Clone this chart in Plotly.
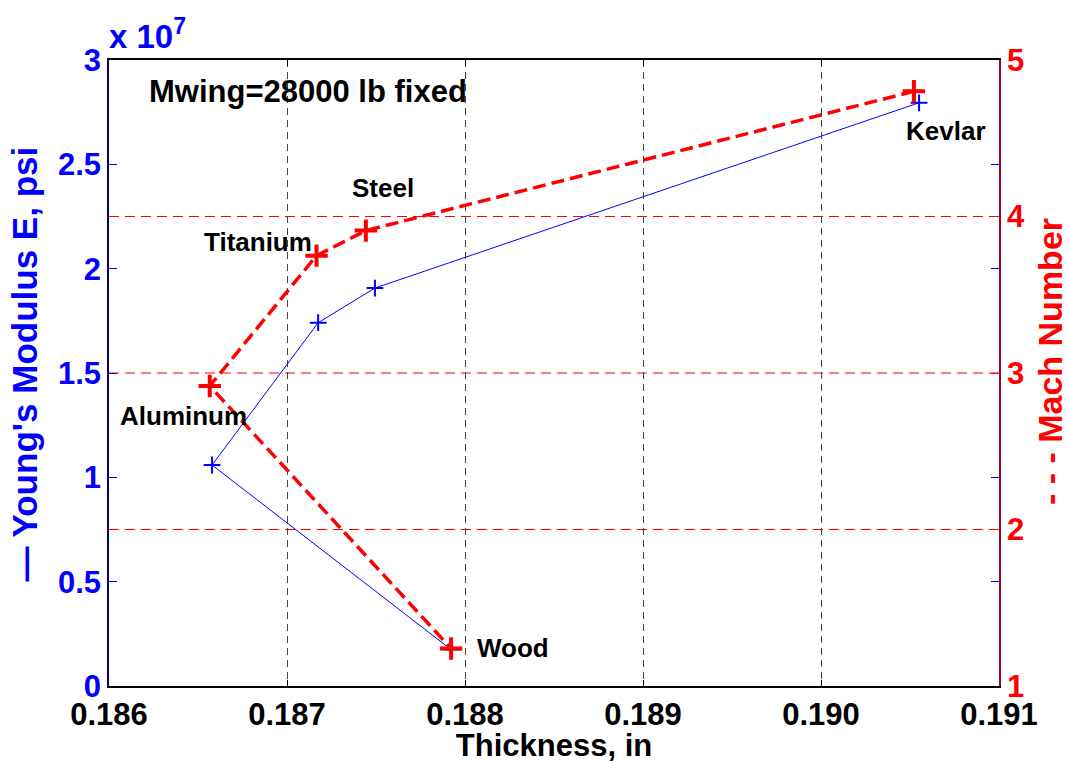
import plotly.graph_objects as go

# ---- data ----
materials = ["Aluminum", "Titanium", "Steel", "Kevlar", "Wood"]
thick_E = [0.186579, 0.187175, 0.187494, 0.190551, 0.187926]
young_E = [1.059e7, 1.741e7, 1.907e7, 2.795e7, 0.172e7]
thick_M = [0.186566, 0.187166, 0.187443, 0.190522, 0.187922]
mach = [2.917, 3.75, 3.91, 4.80, 1.24]

# plot order along the curves: Kevlar -> Steel -> Titanium -> Aluminum -> Wood
order = [3, 2, 1, 0, 4]

x_ticks = [0.186, 0.187, 0.188, 0.189, 0.190, 0.191]
x_ticktext = ["0.186", "0.187", "0.188", "0.189", "0.190", "0.191"]
y_ticks = [0, 0.5e7, 1e7, 1.5e7, 2e7, 2.5e7, 3e7]
y_ticktext = ["0", "0.5", "1", "1.5", "2", "2.5", "3"]
m_ticks = [1, 2, 3, 4, 5]
m_grid = [2, 3, 4]

FONT = "Liberation Sans, Arial, Helvetica, sans-serif"
BLUE = "#0000ff"
RED = "#ff0000"
TS = 31

fig = go.Figure()
fig.add_trace(go.Scatter(
    x=[thick_E[i] for i in order], y=[young_E[i] for i in order],
    mode="lines+markers",
    line=dict(color=BLUE, width=1),
    marker=dict(symbol="cross-thin-open", size=12, line=dict(color=BLUE, width=2)),
    yaxis="y", showlegend=False))
fig.add_trace(go.Scatter(
    x=[thick_M[i] for i in order], y=[mach[i] for i in order],
    mode="lines+markers",
    line=dict(color=RED, width=3.5, dash="13px,6px"),
    marker=dict(symbol="cross-thin-open", size=16, line=dict(color=RED, width=4)),
    yaxis="y2", showlegend=False))
fig.add_trace(go.Scatter(
    x=[thick_E[4]], y=[young_E[4]], mode="markers",
    marker=dict(symbol="cross-thin-open", size=12, line=dict(color=BLUE, width=2)),
    yaxis="y", showlegend=False, hoverinfo="skip"))

# red dashed Mach gridlines
for m in m_grid:
    fig.add_shape(type="line", xref="paper", yref="y2", x0=0, x1=1, y0=m, y1=m,
                  line=dict(color=RED, width=1.2, dash="10px,6px"), layer="below")

fig.update_layout(
    width=1069, height=763,
    margin=dict(l=109, r=70, t=60, b=77),
    paper_bgcolor="white", plot_bgcolor="white",
    font=dict(family=FONT, size=20, color="black"),
    xaxis=dict(
        range=[0.186, 0.191], tickvals=x_ticks, ticktext=x_ticktext,
        showgrid=True, gridcolor="#444444", griddash="7px,5px", gridwidth=1,
        ticks="inside", ticklen=6, tickcolor="black",
        showline=True, linecolor="black", linewidth=1.5, mirror="ticks",
        zeroline=False, automargin=False,
        tickfont=dict(family=FONT, size=TS, color="black", weight="bold"),
        title=dict(text="Thickness, in", standoff=0,
                   font=dict(family=FONT, size=TS, color="black", weight="bold")),
    ),
    yaxis=dict(
        range=[0, 3e7], tickvals=y_ticks, ticktext=y_ticktext,
        showgrid=False, zeroline=False, automargin=False,
        ticks="inside", ticklen=8, tickcolor=BLUE,
        showline=True, linecolor="#000066", linewidth=1.5, mirror="ticks",
        tickfont=dict(family=FONT, size=TS, color=BLUE, weight="bold"),
    ),
    yaxis2=dict(
        range=[1, 5], tickvals=m_ticks, overlaying="y", side="right",
        showgrid=False, zeroline=False, automargin=False,
        ticks="inside", ticklen=8, tickcolor=RED,
        showline=True, linecolor="#990033", linewidth=1.5,
        tickfont=dict(family=FONT, size=TS, color=RED, weight="bold"),
    ),
)

def ann(text, x, y, size=27, color="black", xanchor="left", xref="paper", yref="paper", textangle=0):
    fig.add_annotation(text=text, x=x, y=y, xref=xref, yref=yref,
                       xanchor=xanchor, yanchor="middle", showarrow=False,
                       textangle=textangle,
                       font=dict(family=FONT, size=size, color=color, weight="bold"))

ann("Mwing=28000 lb fixed", 0.043, 0.949, size=31)
ann("Steel", 0.271, 0.7955, size=26)
ann("Titanium", 0.104, 0.709, size=26)
ann("Aluminum", 0.010, 0.431, size=26)
ann("Kevlar", 0.893, 0.8866, size=26)
ann("Wood", 0.411, 0.0607, size=26)
ann("x 10<sup>7</sup>", -0.002, 1.042, size=33, color=BLUE)
# axis titles (rotated, reading bottom to top)
ann("\u2014 Young's Modulus E, psi", -0.0944, 0.515, size=35, color=BLUE,
    xanchor="center", textangle=-90)
ann("- - - Mach Number", 1.0573, 0.519, size=34, color=RED,
    xanchor="center", textangle=-90)

fig.write_html("out.html")
